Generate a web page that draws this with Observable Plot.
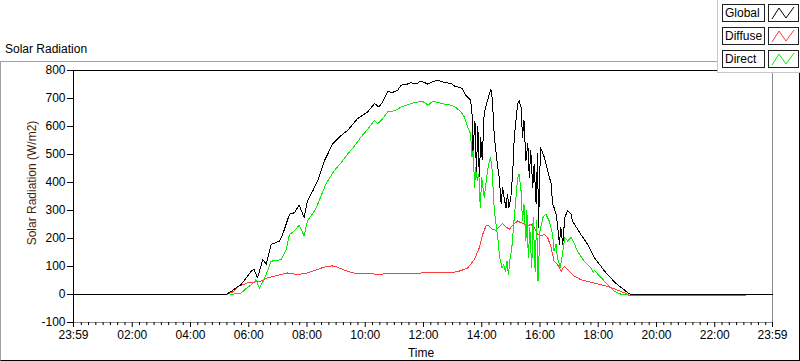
<!DOCTYPE html>
<html>
<head>
<meta charset="utf-8">
<script src="https://cdn.jsdelivr.net/npm/d3@7"></script>
<script src="https://cdn.jsdelivr.net/npm/@observablehq/plot@0.6"></script>
<style>
  html, body { margin: 0; padding: 0; background: #fff; }
  #wrap { position: relative; width: 800px; height: 361px; overflow: hidden;
          font-family: 'Liberation Sans', Arial, sans-serif; font-size: 12px; color: #000; }
  #frame { position: absolute; left: 0; top: 61px; width: 800px; height: 300px; box-sizing: border-box;
           border-top: 1px solid #a0a0a0; border-left: 1px solid #a0a0a0; border-right: 1px solid #000; border-bottom: 1px solid #000; }
  #chart { position: absolute; left: 0; top: 0; }
  #chart svg { display: block; }
  .lbl { position: absolute; white-space: nowrap; line-height: 15px; }
  #title { left: 5px; top: 42px; }
  #xlabel { left: 421px; top: 353px; transform: translate(-50%, -50%); }
  #ylabel { left: 32px; top: 183px; transform: translate(-50%, -50%) rotate(-90deg); color: #4a1c10; }
  #legend { position: absolute; left: 717px; top: 0; width: 83px; height: 73px; box-sizing: border-box; background: #fff;
            border-left: 1px solid #c8c8c8; border-bottom: 1px solid #c8c8c8; }
  .ltext { position: absolute; left: 4px; width: 43px; height: 18px; box-sizing: border-box; border: 1px solid #202020;
           line-height: 16px; padding-left: 2px; background: #fff; white-space: nowrap; overflow: hidden; }
  .licon { position: absolute; left: 50px; width: 31px; height: 18px; box-sizing: border-box; border: 1px solid #202020; background: #fff; }
  .licon svg { display: block; }
</style>
</head>
<body>
<div id="wrap">
  <div id="frame"></div>
  <div id="chart"></div>
  <div class="lbl" id="title">Solar Radiation</div>
  <div class="lbl" id="ylabel">Solar Radiation (W/m2)</div>
  <div class="lbl" id="xlabel">Time</div>
  <div id="legend"></div>
</div>
<script>
// ---- data (minutes since midnight, W/m2) ----
const globalT = [-1,313,323,335,344,355,365,371,378,389,396,406,415,423,430,444,454,464,474,481,492,502,516,533,548,564,584,605,619,628,636,646,657,667,674,684,694,705,715,722,729,739,749,763,777,783,800,807,817,820,822,826,829,832,835,838,841,845,852,855,859,862,866,873,876,880,883,886,890,893,896,900,904,907,914,917,921,924,927,931,935,938,941,945,948,952,955,957,961,969,976,983,986,989,993,996,1000,1003,1007,1011,1017,1024,1027,1031,1044,1058,1072,1086,1092,1106,1113,1127,1134,1144,1155,1439];
const globalV = [0,0,10,25,35,60,83,89,59,125,108,179,185,190,215,287,292,319,275,335,370,406,478,538,565,586,628,652,682,670,688,724,722,730,748,750,756,752,763,757,751,760,766,757,754,745,736,712,694,646,514,620,440,600,420,560,480,646,694,712,733,694,562,454,418,323,382,346,310,358,310,346,442,562,682,692,670,562,622,478,538,418,514,382,466,323,502,239,526,490,442,395,323,310,287,251,179,239,179,275,299,287,263,251,215,179,131,100,85,60,45,25,16,2,0,0];

const diffuseT = [315,329,340,357,371,384,398,419,439,460,480,501,512,522,532,542,553,563,583,625,700,727,760,777,797,811,825,835,842,849,855,862,869,876,883,890,897,904,914,921,928,935,941,948,955,962,969,976,983,989,996,1004,1010,1017,1031,1044,1058,1072,1086,1106,1127,1140,1145,1384];
const diffuseV = [0,11,30,41,44,47,59,68,77,71,77,89,96,101,102,98,90,83,74,73,74,79,77,77,85,95,125,167,215,245,245,233,229,241,253,241,233,248,263,256,252,245,251,239,215,209,215,203,167,119,107,83,101,89,65,53,47,41,35,25,11,1,-5,-5];

const directT = [323,334,344,354,365,375,382,389,396,406,416,427,437,444,454,464,474,481,498,519,536,550,564,580,591,605,619,626,636,646,657,667,674,684,694,705,715,722,729,739,749,763,777,787,797,804,811,817,820,822,825,828,831,834,837,840,845,849,852,855,858,861,866,873,877,882,885,889,892,895,898,902,907,914,917,921,924,927,931,933,936,939,943,946,950,953,956,960,966,972,979,986,989,993,996,1002,1007,1011,1017,1024,1030,1037,1051,1065,1070,1072,1093,1113,1127,1140];
const directV = [0,3,5,20,35,53,23,45,71,119,121,125,160,215,227,248,209,263,305,395,442,470,502,535,562,590,622,610,628,652,655,661,670,675,682,686,691,686,676,690,686,680,676,668,652,634,598,574,490,560,382,454,406,430,310,418,346,400,442,470,490,454,299,203,131,95,107,83,119,71,125,167,275,418,430,370,263,323,191,299,131,239,95,275,83,263,47,227,275,287,263,215,155,179,131,95,155,203,191,203,185,155,119,95,80,86,47,11,1,0];

const seriesNames = ["Global", "Diffuse", "Direct"];
const seriesColors = ["#000000", "#ff3b3b", "#00ee00"];

const yTicks = [-100, 0, 100, 200, 300, 400, 500, 600, 700, 800];
const xMajor = [-1, 120, 240, 360, 480, 600, 720, 840, 960, 1080, 1200, 1320, 1439];
const xMinor = d3.range(15, 1439, 15).filter(t => t % 120 !== 0);

const zip = (T, V) => T.map((t, i) => ({t, v: V[i]}));
const fmt = t => (t < 0 || t >= 1439) ? "23:59" : String(Math.floor(t / 60)).padStart(2, "0") + ":" + String(t % 60).padStart(2, "0");

const chart = Plot.plot({
  width: 800, height: 361,
  marginLeft: 73, marginRight: 28, marginTop: 70, marginBottom: 39,
  style: {fontFamily: "'Liberation Sans', Arial, sans-serif", fontSize: "12px", color: "#000", background: "transparent", overflow: "visible"},
  x: {domain: [-1, 1439]},
  y: {domain: [-100, 800]},
  marks: [
    Plot.ruleX([1439], {stroke: "#8c8c8c"}),
    Plot.ruleY([-100], {stroke: "#8c8c8c"}),
    Plot.ruleY([800], {stroke: "#000"}),
    Plot.ruleX([-1], {stroke: "#000"}),
    Plot.line(zip(diffuseT, diffuseV), {x: "t", y: "v", stroke: seriesColors[1], strokeWidth: 1, shapeRendering: "crispEdges"}),
    Plot.line(zip(directT, directV), {x: "t", y: "v", stroke: seriesColors[2], strokeWidth: 1, shapeRendering: "crispEdges"}),
    Plot.line(zip(globalT, globalV), {x: "t", y: "v", stroke: seriesColors[0], strokeWidth: 1, shapeRendering: "crispEdges"}),
    Plot.axisY({ticks: yTicks, tickSize: 6, tickPadding: 2, label: null, tickFormat: d => String(d)}),
    Plot.axisX({ticks: xMinor, tickSize: 3, tickFormat: () => "", label: null}),
    Plot.axisX({ticks: xMajor, tickSize: 5, tickPadding: 3, tickFormat: fmt, label: null})
  ]
});
document.getElementById("chart").appendChild(chart);

// legend
const legend = document.getElementById("legend");
seriesNames.forEach((name, i) => {
  const top = 4 + i * 23;
  const tx = document.createElement("div");
  tx.className = "ltext"; tx.style.top = top + "px"; tx.textContent = name;
  legend.appendChild(tx);
  const ic = document.createElement("div");
  ic.className = "licon"; ic.style.top = top + "px";
  ic.innerHTML = `<svg width="29" height="16"><polyline points="3,14 10,3 17,13 25,2" fill="none" stroke="${seriesColors[i]}" stroke-width="1"/></svg>`;
  legend.appendChild(ic);
});
</script>
</body>
</html>
